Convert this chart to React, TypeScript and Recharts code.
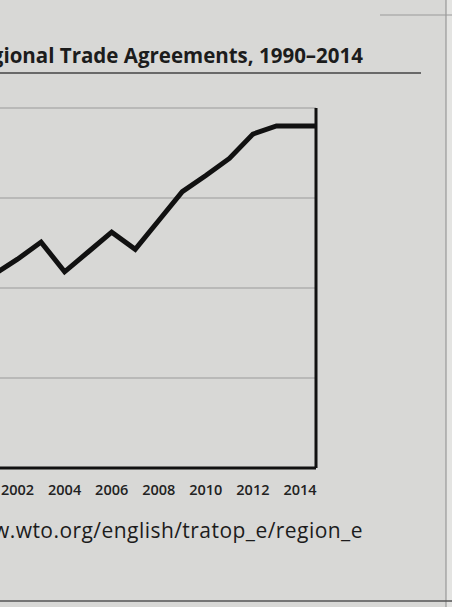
import { LineChart, Line, XAxis, YAxis, CartesianGrid, ReferenceLine } from 'recharts';

// years (2015 only carries the flat run out to the frame)
const years = [2001, 2002, 2003, 2004, 2005, 2006, 2007, 2008, 2009, 2010, 2011, 2012, 2013, 2014, 2015];
const agreements = [215, 232, 251, 218, 240, 262, 243, 275, 307, 325, 344, 371, 380, 380, 380];
const yearTicks = [2002, 2004, 2006, 2008, 2010, 2012, 2014];
const levelTicks = [0, 100, 200, 300, 400];
const frameYear = 2014.68;

const TITLE = 'Regional Trade Agreements, 1990–2014';
const SOURCE = 'www.wto.org/english/tratop_e/region_e';

const data = years.map((year, i) => ({ year, value: agreements[i] }));

const font = '"Open Sans", "DejaVu Sans", sans-serif';

export default function App() {
  return (
    <div
      style={{
        position: 'fixed',
        left: 0,
        top: 0,
        width: 452,
        height: 607,
        overflow: 'hidden',
        background: '#d8d8d6',
        fontFamily: font,
      }}
    >
      <svg width={452} height={607} style={{ position: 'absolute', left: 0, top: 0 }}>
        <rect x={446} y={0} width={6} height={607} fill="#e4e4e2" />
        <line x1={446} y1={0} x2={446} y2={607} stroke="#8a8a8a" strokeWidth={1} />
        <line x1={380} y1={15} x2={452} y2={15} stroke="#9a9a9a" strokeWidth={1} />
        <line x1={0} y1={601} x2={452} y2={601} stroke="#555" strokeWidth={1.5} />
        <text x={363} y={63} textAnchor="end" fontSize={20.5} fontWeight={700} fill="#1c1c1c" fontFamily={font}>
          {TITLE}
        </text>
        <line x1={0} y1={73} x2={421} y2={73} stroke="#444" strokeWidth={1.5} />
        <text
          x={363}
          y={538}
          textAnchor="end"
          fontSize={21}
          letterSpacing={0.45}
          fill="#1c1c1c"
          fontFamily={font}
        >
          {SOURCE}
        </text>
      </svg>
      <div style={{ position: 'absolute', left: -56, top: 0 }}>
        <LineChart
          width={508}
          height={607}
          data={data}
          margin={{ top: 108, right: 136, bottom: 109, left: 50 }}
        >
          <CartesianGrid vertical={false} stroke="#9a9a9a" strokeWidth={1} />
          <XAxis
            dataKey="year"
            type="number"
            domain={[2001, frameYear]}
            allowDataOverflow
            ticks={yearTicks}
            interval={0}
            height={30}
            tickLine={false}
            tickSize={0}
            tickMargin={17}
            axisLine={{ stroke: '#111', strokeWidth: 3 }}
            tick={{ fill: '#222', fontSize: 14.5, fontWeight: 600, fontFamily: font }}
          />
          <YAxis domain={[0, 400]} ticks={levelTicks} hide />
          <ReferenceLine x={frameYear} stroke="#111" strokeWidth={3} />
          <Line
            type="linear"
            dataKey="value"
            stroke="#111"
            strokeWidth={5}
            dot={false}
            isAnimationActive={false}
          />
        </LineChart>
      </div>
    </div>
  );
}
